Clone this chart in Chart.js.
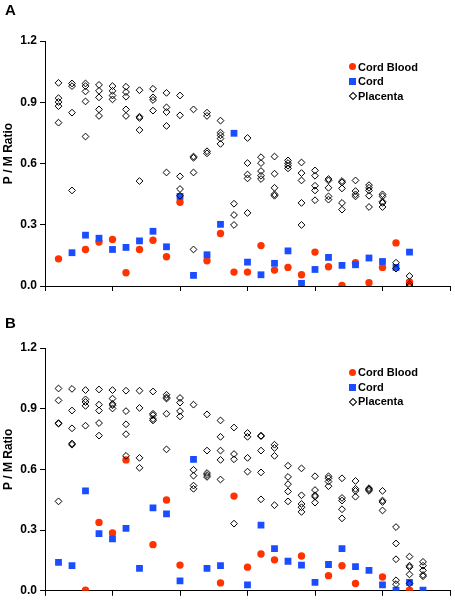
<!DOCTYPE html>
<html>
<head>
<meta charset="utf-8">
<script src="https://cdn.jsdelivr.net/npm/chart.js@4/dist/chart.umd.min.js"></script>
<style>
  html, body { margin: 0; padding: 0; background: #fff; }
  body { width: 455px; height: 601px; position: relative; overflow: hidden; font-family: Arial, "Liberation Sans", sans-serif; }
  .panel { position: absolute; left: 0; width: 455px; }
  .tag { position: absolute; left: 5px; font: bold 15px Arial, "Liberation Sans", sans-serif; color: #000; }
  .legend { position: absolute; left: 347px; font: bold 11px Arial, "Liberation Sans", sans-serif; color: #000; }
  .legend div { height: 14.6px; line-height: 14.6px; position: relative; padding-left: 11px; white-space: nowrap; }
  .mk { position: absolute; top: 50%; }
  .mk.dot { left: 1.5px; width: 7px; height: 7px; margin-top: -3.5px; border-radius: 50%; background: #ff3300; }
  .mk.sq { left: 1.5px; width: 7px; height: 7px; margin-top: -3.5px; background: #1a4dff; }
  .mk.dia { left: 2.5px; width: 4px; height: 4px; margin-top: -3px; border: 1px solid #000; transform: rotate(45deg); }
</style>
</head>
<body>
<div class="panel" style="top:0;height:300px">
  <canvas id="chartA" width="455" height="300"></canvas>
</div>
<div class="panel" style="top:300px;height:301px">
  <canvas id="chartB" width="455" height="301"></canvas>
</div>
<div class="tag" style="top:1px">A</div>
<div class="tag" style="top:314px">B</div>
<div class="legend" style="top:59.5px">
  <div><span class="mk dot"></span>Cord Blood</div>
  <div><span class="mk sq"></span>Cord</div>
  <div><span class="mk dia"></span>Placenta</div>
</div>
<div class="legend" style="top:365.2px">
  <div><span class="mk dot"></span>Cord Blood</div>
  <div><span class="mk sq"></span>Cord</div>
  <div><span class="mk dia"></span>Placenta</div>
</div>
<script>
// ---- data: one entry per sample column (x = 1, 2, 3 ...), null = no point ----
const yTicks = [0.0, 0.3, 0.6, 0.9, 1.2];

// panel A
const aCordBlood = [0.133, null, 0.179, 0.215, 0.228, 0.065, 0.179, 0.224, 0.143, 0.410,
  null, 0.124, 0.257, 0.068, 0.068, 0.198, 0.078, 0.091, 0.055, 0.166,
  0.094, 0.003, 0.114, 0.016, 0.091, 0.211, 0.020];
const aCord = [null, 0.163, 0.249, 0.234, 0.179, 0.189, 0.221, 0.268, 0.192, 0.439,
  0.052, 0.153, 0.302, 0.748, 0.117, 0.055, 0.111, 0.172, 0.013, 0.081,
  0.140, 0.101, 0.104, 0.137, 0.120, 0.091, 0.166];
const aPlacenta = [
  [0.995, 0.920, 0.901, 0.881, 0.800],
  [0.992, 0.979, 0.849, 0.468],
  [0.992, 0.979, 0.953, 0.904, 0.732],
  [0.985, 0.956, 0.924, 0.865, 0.833],
  [0.979, 0.956, 0.933, 0.914],
  [0.976, 0.950, 0.927, 0.865, 0.833],
  [0.959, 0.829, 0.823, 0.764, 0.514],
  [0.966, 0.924, 0.911, 0.859],
  [0.946, 0.875, 0.852, 0.784, 0.556],
  [0.933, 0.836, 0.537, 0.475, 0.442],
  [0.865, 0.634, 0.628, 0.556, 0.179],
  [0.849, 0.833, 0.660, 0.650],
  [0.810, 0.751, 0.738, 0.722, 0.696],
  [0.403, 0.348, 0.299],
  [0.725, 0.602, 0.546, 0.527, 0.358],
  [0.631, 0.602, 0.563, 0.540, 0.524],
  [0.634, 0.550, 0.481, 0.449, 0.442],
  [0.615, 0.602, 0.589, 0.576],
  [0.605, 0.553, 0.517, 0.407, 0.299],
  [0.566, 0.540, 0.491, 0.468, 0.420],
  [0.524, 0.517, 0.481, 0.439, 0.423],
  [0.514, 0.507, 0.478, 0.407, 0.374],
  [0.517, 0.465, 0.449, 0.439],
  [0.494, 0.481, 0.468, 0.442, 0.387],
  [0.449, 0.439, 0.413, 0.407, 0.387],
  [0.114, 0.085],
  [0.049, 0.010, 0.000]
];

// panel B
const bCordBlood = [null, null, 0.003, 0.338, 0.286, 0.647, null, 0.228, 0.449, 0.127,
  null, null, 0.039, 0.468, 0.117, 0.182, 0.153, null, 0.172, null,
  0.075, 0.124, 0.036, null, 0.068, null, 0.003, null];
const bCord = [0.140, 0.124, 0.494, 0.283, 0.257, 0.309, 0.111, 0.410, 0.380, 0.049,
  0.650, 0.111, 0.124, null, 0.029, 0.325, 0.208, 0.146, 0.127, 0.042,
  0.130, 0.208, 0.120, 0.101, 0.029, 0.003, 0.042, 0.003];
const bPlacenta = [
  [1.000, 0.941, 0.829, 0.826, 0.442],
  [0.998, 0.891, 0.803, 0.728, 0.722],
  [0.992, 0.946, 0.933, 0.914, 0.816],
  [0.995, 0.920, 0.891, 0.829, 0.767],
  [0.992, 0.950, 0.924, 0.917, 0.901],
  [0.989, 0.888, 0.823, 0.774, 0.667],
  [0.989, 0.904, 0.657, 0.608],
  [0.985, 0.875, 0.868, 0.849, 0.842],
  [0.969, 0.956, 0.950, 0.875, 0.699],
  [0.953, 0.930, 0.888, 0.862],
  [0.920, 0.598, 0.569, 0.520, 0.504],
  [0.872, 0.693, 0.582, 0.572, 0.563],
  [0.842, 0.761, 0.693, 0.647, 0.550],
  [0.807, 0.676, 0.650, 0.332],
  [0.780, 0.761, 0.657, 0.589],
  [0.767, 0.764, 0.693, 0.585, 0.452],
  [0.722, 0.706, 0.667, 0.423],
  [0.618, 0.563, 0.527, 0.491, 0.442],
  [0.605, 0.472, 0.429, 0.413, 0.390],
  [0.566, 0.498, 0.472, 0.465, 0.436],
  [0.566, 0.556, 0.540, 0.517],
  [0.556, 0.459, 0.446, 0.403, 0.358],
  [0.543, 0.504, 0.494, 0.465],
  [0.507, 0.501, 0.494],
  [0.494, 0.446, 0.439, 0.397],
  [0.315, 0.234, 0.156, 0.052, 0.033],
  [0.169, 0.124, 0.117, 0.081, 0.036],
  [0.143, 0.124, 0.101, 0.078, 0.072]
];

// ---- helpers ----
const RED = "#ff3300", BLUE = "#1a4dff";
const FONT = "Arial, 'Liberation Sans', sans-serif";

function pts(arr) {
  const out = [];
  arr.forEach((v, i) => { if (v !== null) out.push({ x: i + 1, y: v }); });
  return out;
}
function ptsMulti(cols) {
  const out = [];
  cols.forEach((c, i) => c.forEach((v) => out.push({ x: i + 1, y: v })));
  return out;
}

function scatter(canvas, cordBlood, cord, placenta, padTop, xHeight) {
  // dataset 0 draws on top, so placenta first, cord blood last
  return new Chart(canvas, {
    type: "scatter",
    data: {
      datasets: [
        { label: "Placenta", data: ptsMulti(placenta), pointStyle: "rectRot", pointRadius: 3.4,
          borderColor: "#000", backgroundColor: "rgba(0,0,0,0)", borderWidth: 1 },
        { label: "Cord", data: pts(cord), pointStyle: "rect", pointRadius: 4.8,
          borderColor: BLUE, backgroundColor: BLUE, borderWidth: 0 },
        { label: "Cord Blood", data: pts(cordBlood), pointStyle: "circle", pointRadius: 3.7,
          borderColor: RED, backgroundColor: RED, borderWidth: 0 },
      ],
    },
    options: {
      responsive: false,
      animation: false,
      events: [],
      layout: { padding: { top: padTop, right: 4, left: 0, bottom: 0 } },
      plugins: { legend: { display: false }, tooltip: { enabled: false } },
      scales: {
        x: {
          type: "linear", min: 0, max: 30,
          ticks: { display: false, stepSize: 5 },
          grid: { display: true, drawOnChartArea: false, drawTicks: true, tickLength: 5, color: "#000" },
          border: { color: "#000", width: 1 },
          afterFit: (s) => { s.height = xHeight; },
        },
        y: {
          type: "linear", min: 0, max: 1.2,
          afterBuildTicks: (s) => { s.ticks = yTicks.map((v) => ({ value: v })); },
          ticks: { color: "#000", padding: 3, font: { family: FONT, size: 12, weight: "bold" },
            callback: (v) => Number(v).toFixed(1) },
          grid: { display: true, drawOnChartArea: false, drawTicks: true, tickLength: 5, color: "#000" },
          border: { color: "#000", width: 1 },
          // leading spaces nudge the centred title up, as in the original
          title: { display: true, text: "      P / M Ratio", color: "#000", padding: { top: 1, bottom: 0 },
            font: { family: FONT, size: 12, weight: "bold" } },
          afterFit: (s) => { s.width = 45; },
        },
      },
    },
  });
}

scatter(document.getElementById("chartA"), aCordBlood, aCord, aPlacenta, 41, 14);
scatter(document.getElementById("chartB"), bCordBlood, bCord, bPlacenta, 48, 8);
</script>
</body>
</html>
